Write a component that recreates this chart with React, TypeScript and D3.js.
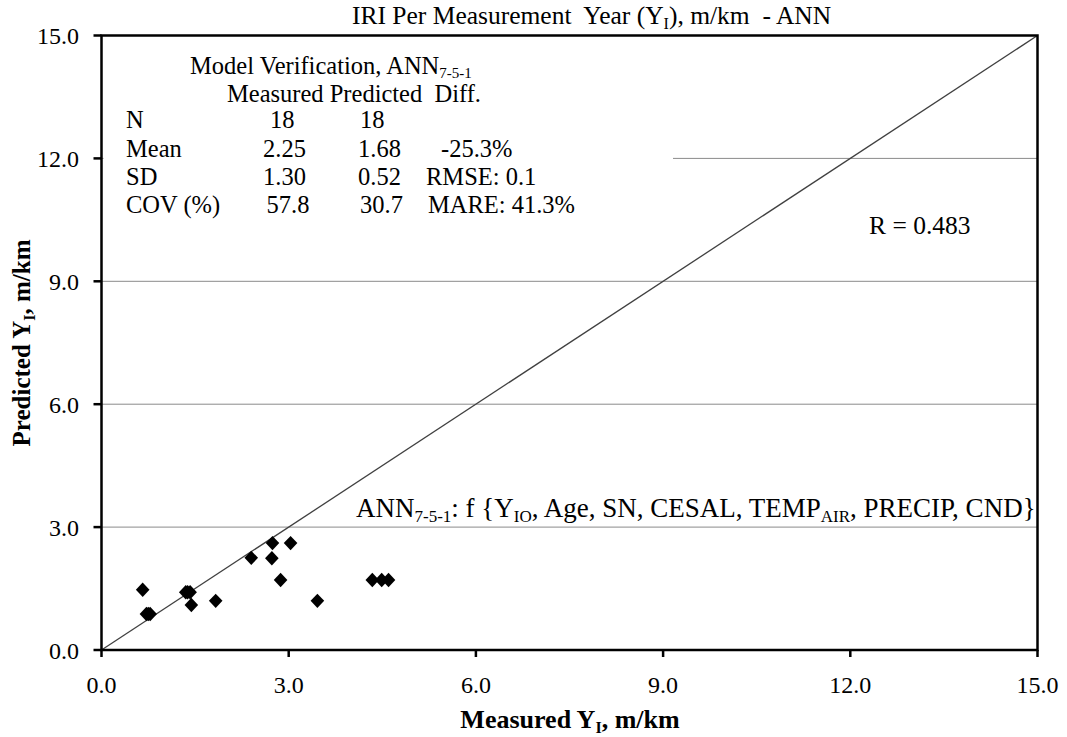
import React from "react";
import * as d3 from "d3";

const measured = [0.66, 0.72, 0.78, 0.75, 1.35, 1.42, 1.38, 1.44, 1.83, 2.40, 2.74, 2.73, 3.03, 2.87, 3.46, 4.34, 4.49, 4.60];
const predicted = [1.47, 0.88, 0.88, 0.88, 1.41, 1.41, 1.41, 1.10, 1.20, 2.25, 2.61, 2.24, 2.61, 1.71, 1.20, 1.71, 1.71, 1.71];
const ticks = [0, 3, 6, 9, 12, 15];
const gridTicks = [3, 6, 9, 12];
const statLabels = ["N", "Mean", "SD", "COV (%)"];
const statMeasured = ["18", "2.25", "1.30", "57.8"];
const statPredicted = ["18", "1.68", "0.52", "30.7"];
const statDiff = ["", "-25.3%", "RMSE: 0.1", "MARE: 41.3%"];

const W = 1067, H = 737;
const L = 101.5, R = 1037.5, T = 35.5, B = 650;
const FONT = "'Liberation Serif', 'Times New Roman', serif";
const rowY = [128, 156.5, 184.5, 212.5];
const measX = [270, 263, 263, 266.5];
const predX = [360, 358, 358, 360];
const diffX = [441, 441, 426, 428];
const pre = { whiteSpace: "pre" as const };

export default function App() {
  const x = d3.scaleLinear().domain([0, 15]).range([L, R]);
  const y = d3.scaleLinear().domain([0, 15]).range([B, T]);
  const hw = 6.8, hh = 7.2;
  const diamond = `M0,${-hh}L${hw},0L0,${hh}L${-hw},0Z`;
  const fs = 24.5;
  const tfs = 24;
  return (
    <svg width={W} height={H} style={{ position: "absolute", left: 0, top: 0, background: "#fff" }} fontFamily={FONT}>
      <rect x={0} y={0} width={W} height={H} fill="#fff" />
      {gridTicks.map((t) => (
        <line key={t} x1={L} x2={R} y1={y(t)} y2={y(t)} stroke="#8a8a8a" strokeWidth={1} />
      ))}
      <rect x={L + 2} y={45} width={673 - L - 2} height={180} fill="#fff" />
      <line x1={x(0)} y1={y(0)} x2={x(15)} y2={y(15)} stroke="#404040" strokeWidth={1.3} />
      <rect x={350} y={490} width={R - 352} height={34} fill="#fff" />
      {measured.map((m, i) => (
        <path key={i} d={diamond} transform={`translate(${x(m)},${y(predicted[i])})`} fill="#000" />
      ))}
      <rect x={L} y={T} width={R - L} height={B - T} fill="none" stroke="#000" strokeWidth={2.5} />
      {ticks.map((t) => (
        <g key={"x" + t}>
          <line x1={x(t)} x2={x(t)} y1={B} y2={B + 7} stroke="#000" strokeWidth={2.5} />
          <text x={x(t)} y={693} textAnchor="middle" fontSize={tfs} fill="#000">{t.toFixed(1)}</text>
        </g>
      ))}
      {ticks.map((t) => (
        <g key={"y" + t}>
          <line x1={L - 8} x2={L} y1={y(t)} y2={y(t)} stroke="#000" strokeWidth={2.5} />
          <text x={79} y={y(t) + 8.5} textAnchor="end" fontSize={tfs} fill="#000">{t.toFixed(1)}</text>
        </g>
      ))}
      <text x={352} y={24} fontSize={25.5} fill="#000" style={pre}>
        IRI Per Measurement  Year (Y<tspan fontSize={16} dy={5}>I</tspan><tspan dy={-5}>), m/km  - ANN</tspan>
      </text>
      <text x={570} y={728} textAnchor="middle" fontSize={26} fontWeight="bold" fill="#000">
        Measured Y<tspan fontSize={16} dy={5}>I</tspan><tspan dy={-5}>, m/km</tspan>
      </text>
      <text transform={`translate(30,343) rotate(-90)`} textAnchor="middle" fontSize={25} fontWeight="bold" fill="#000">
        Predicted Y<tspan fontSize={16} dy={5}>I</tspan><tspan dy={-5}>, m/km</tspan>
      </text>
      <text x={190} y={74} fontSize={fs} fill="#000">
        Model Verification, ANN<tspan fontSize={15} dy={3.5}>7-5-1</tspan>
      </text>
      <text x={227} y={102} fontSize={fs} fill="#000" style={pre}>Measured Predicted  Diff.</text>
      {statLabels.map((lab, i) => (
        <g key={i}>
          <text x={126} y={rowY[i]} fontSize={fs} fill="#000">{lab}</text>
          <text x={measX[i]} y={rowY[i]} fontSize={fs} fill="#000">{statMeasured[i]}</text>
          <text x={predX[i]} y={rowY[i]} fontSize={fs} fill="#000">{statPredicted[i]}</text>
          <text x={diffX[i]} y={rowY[i]} fontSize={fs} fill="#000">{statDiff[i]}</text>
        </g>
      ))}
      <text x={869} y={234} fontSize={25.5} fill="#000">R = 0.483</text>
      <text x={356} y={517} fontSize={27} fill="#000">
        ANN<tspan fontSize={17} dy={5}>7-5-1</tspan><tspan dy={-5}>: f {"{"}Y</tspan><tspan fontSize={17} dy={5}>IO</tspan><tspan dy={-5}>, Age, SN, CESAL, TEMP</tspan><tspan fontSize={17} dy={5}>AIR</tspan><tspan dy={-5}>, PRECIP, CND{"}"}</tspan>
      </text>
    </svg>
  );
}
